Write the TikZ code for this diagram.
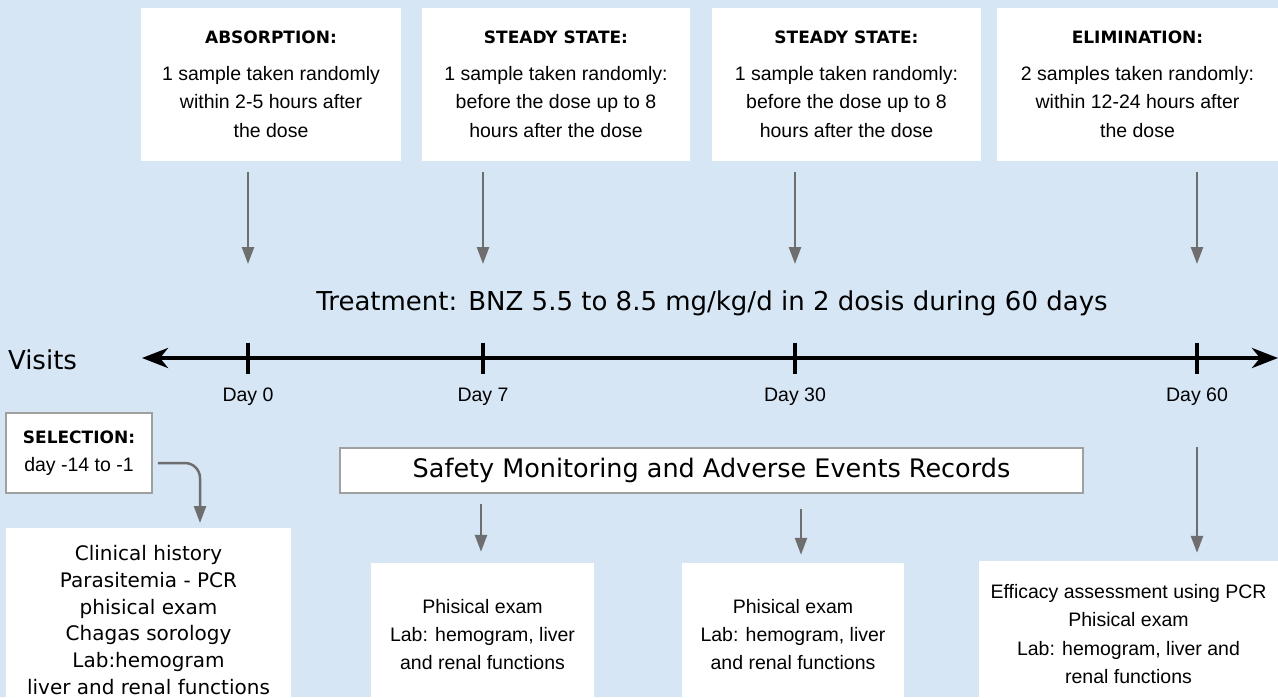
\documentclass[tikz,border=0pt]{standalone}
\usepackage{fontspec}
\setmainfont{Liberation Sans}
\newfontfamily\lucfont{DejaVu Sans}
\usepackage{tikz}
\usetikzlibrary{arrows.meta,positioning,calc}
\definecolor{bgblue}{RGB}{214,230,245}
\definecolor{arrgray}{RGB}{110,110,110}
\definecolor{edgegray}{RGB}{160,160,160}
\tikzset{sample/.style={fill=white,align=center,inner sep=0pt,font=\fontsize{19.5}{28.5}\selectfont}}
\tikzset{record/.style={fill=white,draw=edgegray,line width=1.5pt,inner sep=0pt,align=center}}
\tikzset{garrow/.style={draw=arrgray,line width=2.5pt,-{Triangle[length=17pt,width=12pt]}}}
\tikzset{daylbl/.style={inner sep=0pt,font=\fontsize{19.5}{22}\selectfont}}
\tikzset{tick/.style={line width=4pt}}
\newcommand{\headtxt}[1]{{\lucfont\bfseries\fontsize{17}{20}\selectfont #1}}

\begin{document}
\begin{tikzpicture}[x=1pt, y=-1pt]
        \fill[bgblue, use as bounding box] (0,0) rectangle (1278,697);
        \clip (0,0) rectangle (1278,697);
        % sampling boxes
        \node[sample, minimum width=260pt, minimum height=153pt] (absorp) at (271,84.5) {\headtxt{ABSORPTION:}\\[8pt]1 sample taken randomly\\within 2-5 hours after\\the dose};
        \node[sample, minimum width=268pt, minimum height=153pt] (steady1) at (556,84.5) {\headtxt{STEADY STATE:}\\[8pt]1 sample taken randomly:\\before the dose up to 8\\hours after the dose};
        \node[sample, minimum width=269pt, minimum height=153pt] (steady2) at (846.5,84.5) {\headtxt{STEADY STATE:}\\[8pt]1 sample taken randomly:\\before the dose up to 8\\hours after the dose};
        \node[sample, minimum width=281pt, minimum height=153pt] (elim) at (1137.5,84.5) {\headtxt{ELIMINATION:}\\[8pt]2 samples taken randomly:\\within 12-24 hours after\\the dose};
        % time line
        \node[inner sep=0pt, font=\lucfont\fontsize{26}{30}\selectfont] (treat) at (712,303) {Treatment: BNZ 5.5 to 8.5 mg/kg/d in 2 dosis during 60 days};
        \node[inner sep=0pt, font=\lucfont\fontsize{26}{30}\selectfont] (visits) at (42.5,360) {Visits};
        \coordinate (tl) at (142,358);
        \coordinate (tr) at (1278,358);
        \draw[line width=4pt, {Stealth[length=26pt,width=20pt,inset=8pt]}-{Stealth[length=26pt,width=20pt,inset=8pt]}] (tl) -- (tr);
        \coordinate (t0) at (248,358);
        \coordinate (t7) at (483,358);
        \coordinate (t30) at (795,358);
        \coordinate (t60) at (1197,358);
        \draw[tick] ([yshift=15.5pt]t0) -- ([yshift=-15.5pt]t0);
        \draw[tick] ([yshift=15.5pt]t7) -- ([yshift=-15.5pt]t7);
        \draw[tick] ([yshift=15.5pt]t30) -- ([yshift=-15.5pt]t30);
        \draw[tick] ([yshift=15.5pt]t60) -- ([yshift=-15.5pt]t60);
        \node[daylbl] (day0) at (248,397) {Day 0};
        \node[daylbl] (day7) at (483,397) {Day 7};
        \node[daylbl] (day30) at (795,397) {Day 30};
        \node[daylbl] (day60) at (1197,397) {Day 60};
        \draw[garrow] ([yshift=-11pt]t0 |- absorp.south) -- ([yshift=94pt]t0);
        \draw[garrow] ([yshift=-11pt]t7 |- steady1.south) -- ([yshift=94pt]t7);
        \draw[garrow] ([yshift=-11pt]t30 |- steady2.south) -- ([yshift=94pt]t30);
        \draw[garrow] ([yshift=-11pt]t60 |- elim.south) -- ([yshift=94pt]t60);
        % visits
        \node[record, minimum width=146pt, minimum height=80pt, font=\fontsize{19.5}{28.5}\selectfont] (select) at (79,453) {\headtxt{SELECTION:}\\day -14 to -1};
        \node[sample, minimum width=285pt, minimum height=184pt, font=\lucfont\fontsize{20}{26.8}\selectfont] (clinic) at (148.5,620) {Clinical history\\Parasitemia - PCR\\phisical exam\\Chagas sorology\\Lab:hemogram\\liver and renal functions};
        \coordinate (clinin) at (200,523);
        \draw[garrow, rounded corners=15pt] ([shift={(5pt,-10pt)}]select.east) -| (clinin);
        \node[record, minimum width=743pt, minimum height=45pt, font=\lucfont\fontsize{25.5}{30}\selectfont] (safety) at (711.5,470.5) {Safety Monitoring and Adverse Events Records};
        \node[sample, minimum width=223pt, minimum height=144pt, font=\fontsize{19.5}{28}\selectfont] (phys1) at (482.5,635) {Phisical exam\\Lab: hemogram, liver\\and renal functions};
        \node[sample, minimum width=222pt, minimum height=144pt, font=\fontsize{19.5}{28}\selectfont] (phys2) at (793,635) {Phisical exam\\Lab: hemogram, liver\\and renal functions};
        \node[sample, minimum width=299pt, minimum height=146pt, font=\fontsize{19.5}{28.3}\selectfont] (effic) at (1128.5,634) {Efficacy assessment using PCR\\Phisical exam\\Lab: hemogram, liver and\\renal functions};
        \draw[garrow] ([shift={(-1.5pt,-10pt)}]safety.south -| phys1.north) -- ([shift={(-1.5pt,11pt)}]phys1.north);
        \draw[garrow] ([shift={(8pt,-15pt)}]safety.south -| phys2.north) -- ([shift={(8pt,8pt)}]phys2.north);
        \draw[garrow] ([yshift=-89pt]t60) -- ([yshift=8pt]t60 |- effic.north);
\end{tikzpicture}
\end{document}
